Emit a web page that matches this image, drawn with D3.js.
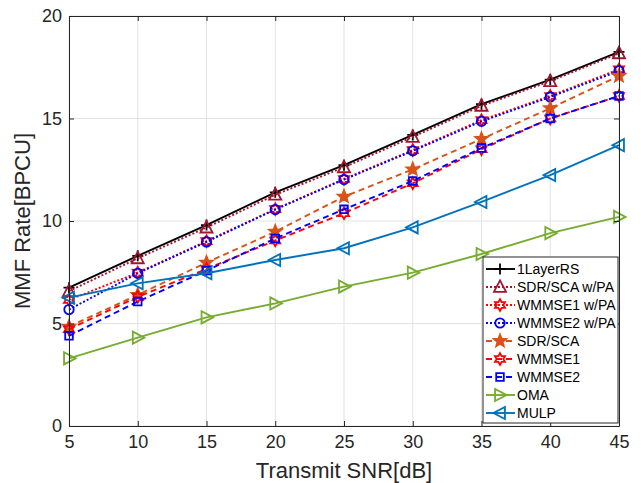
<!DOCTYPE html>
<html>
<head>
<meta charset="utf-8">
<script src="https://cdn.jsdelivr.net/npm/d3@7"></script>
<style>
  html, body { margin: 0; padding: 0; background: #fff; }
  svg { display: block; font-family: "Liberation Sans", Arial, Helvetica, sans-serif; }
</style>
</head>
<body>
<svg id="chart" width="641" height="483"></svg>
<script>
// Transmit SNR values (dB)
const snr = [5, 10, 15, 20, 25, 30, 35, 40, 45];

// MMF rate per scheme (BPCU)
const oneLayerRS   = [6.75, 8.30, 9.80, 11.40, 12.72, 14.20, 15.70, 16.90, 18.25];
const sdrScaPA     = [6.58, 8.18, 9.68, 11.28, 12.62, 14.10, 15.62, 16.82, 18.18];
const wmmse1PA     = [6.15, 7.48, 9.02, 10.58, 12.05, 13.46, 14.92, 16.10, 17.40];
const wmmse2PA     = [5.68, 7.45, 8.98, 10.56, 12.02, 13.42, 14.86, 16.05, 17.32];
const sdrSca       = [4.85, 6.40, 7.97, 9.48, 11.19, 12.52, 14.00, 15.50, 17.08];
const wmmse1       = [4.72, 6.30, 7.66, 9.05, 10.38, 11.84, 13.50, 15.00, 16.10];
const wmmse2       = [4.40, 6.07, 7.58, 9.15, 10.57, 11.95, 13.56, 15.00, 16.10];
const oma          = [3.30, 4.31, 5.30, 5.98, 6.80, 7.48, 8.39, 9.41, 10.20];
const mulp         = [6.26, 6.96, 7.45, 8.10, 8.67, 9.69, 10.93, 12.24, 13.70];

// Axis ticks
const xTicks = [5, 10, 15, 20, 25, 30, 35, 40, 45];
const yTicks = [0, 5, 10, 15, 20];

// Legend order and styling
const seriesNames = ["1LayerRS", "SDR/SCA w/PA", "WMMSE1 w/PA", "WMMSE2 w/PA",
                     "SDR/SCA", "WMMSE1", "WMMSE2", "OMA", "MULP"];
const seriesValues = [oneLayerRS, sdrScaPA, wmmse1PA, wmmse2PA, sdrSca, wmmse1, wmmse2, oma, mulp];
const seriesColors = ["#000000", "#A2142F", "#FF0000", "#0000FF",
                      "#D95319", "#FF0000", "#0000FF", "#77AC30", "#0072BD"];
const seriesDash   = [null, "2,2", "2,2", "2,2", "6,4", "6,4", "6,4", null, null];
const seriesMarker = ["plus", "triUp", "hexagram", "circle",
                      "pentagram", "hexagram", "square", "triRight", "triLeft"];

const svg = d3.select("#chart");
const plotL = 69, plotR = 619, plotT = 16, plotB = 426;

const x = d3.scaleLinear().domain([5, 45]).range([plotL, plotR]);
const y = d3.scaleLinear().domain([0, 20]).range([plotB, plotT]);

const axisColor = "#262626";

// Grid
const grid = svg.append("g");
grid.selectAll("line.gx").data(xTicks).join("line")
  .attr("class", "gx")
  .attr("x1", d => x(d)).attr("x2", d => x(d))
  .attr("y1", plotT).attr("y2", plotB)
  .attr("stroke", "#e3e3e3").attr("stroke-width", 1);
grid.selectAll("line.gy").data(yTicks).join("line")
  .attr("class", "gy")
  .attr("y1", d => y(d)).attr("y2", d => y(d))
  .attr("x1", plotL).attr("x2", plotR)
  .attr("stroke", "#e3e3e3").attr("stroke-width", 1);

// Marker shapes
function starPath(points, rOuter, rInner) {
  const p = d3.path();
  for (let i = 0; i < points * 2; i++) {
    const r = i % 2 === 0 ? rOuter : rInner;
    const a = -Math.PI / 2 + i * Math.PI / points;
    const px = r * Math.cos(a), py = r * Math.sin(a);
    if (i === 0) p.moveTo(px, py); else p.lineTo(px, py);
  }
  p.closePath();
  return p.toString();
}
function triPath(dir, s) {
  // dir: 0 up, 1 right, 2 left
  const h = s;
  let pts;
  if (dir === 0) pts = [[0, -h * 0.6], [h * 0.55, h * 0.45], [-h * 0.55, h * 0.45]];
  else if (dir === 1) pts = [[h * 0.6, 0], [-h * 0.45, h * 0.55], [-h * 0.45, -h * 0.55]];
  else pts = [[-h * 0.6, 0], [h * 0.45, h * 0.55], [h * 0.45, -h * 0.55]];
  return "M" + pts.map(p => p.join(",")).join("L") + "Z";
}
function markerPath(kind) {
  switch (kind) {
    case "plus": return "M-5.5,0L5.5,0M0,-5.5L0,5.5";
    case "triUp": return triPath(0, 11);
    case "triRight": return triPath(1, 11);
    case "triLeft": return triPath(2, 11);
    case "circle": return d3.symbol(d3.symbolCircle, 70)();
    case "square": return "M-3.8,-3.8L3.8,-3.8L3.8,3.8L-3.8,3.8Z";
    case "pentagram": return starPath(5, 6.5, 2.8);
    case "hexagram": return starPath(6, 5.8, 3.3);
  }
}
function markerFill(kind, color) {
  return (kind === "pentagram") ? color : "none";
}

// Series lines and markers
const line = d3.line().x((d, i) => x(snr[i])).y(d => y(d));
const plot = svg.append("g");
seriesValues.forEach((vals, k) => {
  const g = plot.append("g");
  g.append("path").datum(vals)
    .attr("d", line)
    .attr("fill", "none")
    .attr("stroke", seriesColors[k])
    .attr("stroke-width", 1.9)
    .attr("stroke-dasharray", seriesDash[k]);
  g.selectAll("path.m").data(vals).join("path")
    .attr("class", "m")
    .attr("transform", (d, i) => `translate(${x(snr[i])},${y(d)})`)
    .attr("d", markerPath(seriesMarker[k]))
    .attr("fill", markerFill(seriesMarker[k], seriesColors[k]))
    .attr("stroke", seriesColors[k])
    .attr("stroke-width", 1.8);
});

// Axes (ticks pointing inward, box around the plot)
const fontTick = 18;
const xAxis = svg.append("g").attr("transform", `translate(0,${plotB})`)
  .call(d3.axisBottom(x).tickValues(xTicks).tickSizeInner(-5).tickSizeOuter(0).tickPadding(9));
const xAxisTop = svg.append("g").attr("transform", `translate(0,${plotT})`)
  .call(d3.axisTop(x).tickValues(xTicks).tickSizeInner(-5).tickSizeOuter(0).tickFormat(""));
const yAxis = svg.append("g").attr("transform", `translate(${plotL},0)`)
  .call(d3.axisLeft(y).tickValues(yTicks).tickSizeInner(-5).tickSizeOuter(0).tickPadding(7));
const yAxisRight = svg.append("g").attr("transform", `translate(${plotR},0)`)
  .call(d3.axisRight(y).tickValues(yTicks).tickSizeInner(-5).tickSizeOuter(0).tickFormat(""));

[xAxis, xAxisTop, yAxis, yAxisRight].forEach(a => {
  a.select(".domain").attr("stroke", axisColor).attr("stroke-width", 1);
  a.selectAll(".tick line").attr("stroke", axisColor).attr("stroke-width", 1);
  a.selectAll(".tick text").attr("fill", axisColor)
    .style("font-size", fontTick + "px")
    .style("font-family", '"Liberation Sans", Arial, sans-serif');
});

// Axis titles
svg.append("text")
  .attr("x", (plotL + plotR) / 2).attr("y", 478)
  .attr("text-anchor", "middle")
  .attr("fill", axisColor)
  .style("font-size", "22px")
  .text("Transmit SNR[dB]");
svg.append("text")
  .attr("transform", `translate(30,${(plotT + plotB) / 2}) rotate(-90)`)
  .attr("text-anchor", "middle")
  .attr("fill", axisColor)
  .style("font-size", "22px")
  .text("MMF Rate[BPCU]");

// Legend
const lgX = 483, lgY = 257, lgW = 135, lgH = 166, rowH = 18;
const legend = svg.append("g");
legend.append("rect")
  .attr("x", lgX).attr("y", lgY).attr("width", lgW).attr("height", lgH)
  .attr("fill", "#fff").attr("stroke", axisColor).attr("stroke-width", 1);
seriesNames.forEach((name, k) => {
  const cy = lgY + 12 + k * rowH;
  const row = legend.append("g");
  row.append("line")
    .attr("x1", lgX + 3).attr("x2", lgX + 32)
    .attr("y1", cy).attr("y2", cy)
    .attr("stroke", seriesColors[k]).attr("stroke-width", 1.9)
    .attr("stroke-dasharray", seriesDash[k]);
  row.append("path")
    .attr("transform", `translate(${lgX + 17},${cy})`)
    .attr("d", markerPath(seriesMarker[k]))
    .attr("fill", markerFill(seriesMarker[k], seriesColors[k]))
    .attr("stroke", seriesColors[k]).attr("stroke-width", 1.8);
  row.append("text")
    .attr("x", lgX + 34).attr("y", cy + 5)
    .attr("fill", "#000")
    .style("font-size", "14px")
    .text(name);
});
</script>
</body>
</html>
